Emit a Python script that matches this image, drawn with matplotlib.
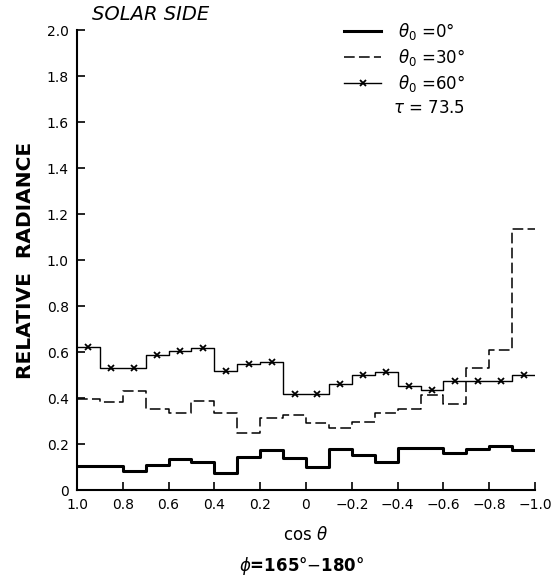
import matplotlib
matplotlib.use("Agg")
import matplotlib.pyplot as plt
import numpy as np

# bin edges in cos(theta), 20 bins of width 0.1 from 1.0 down to -1.0
cos_edges = [1.0, 0.9, 0.8, 0.7, 0.6, 0.5, 0.4, 0.3, 0.2, 0.1, 0.0,
             -0.1, -0.2, -0.3, -0.4, -0.5, -0.6, -0.7, -0.8, -0.9, -1.0]

rad_theta0 = [0.106, 0.106, 0.081, 0.109, 0.134, 0.122, 0.072, 0.145, 0.174, 0.138,
              0.100, 0.177, 0.153, 0.121, 0.184, 0.184, 0.160, 0.178, 0.191, 0.174]
rad_theta30 = [0.397, 0.383, 0.429, 0.354, 0.334, 0.386, 0.335, 0.249, 0.314, 0.328,
               0.292, 0.269, 0.295, 0.335, 0.354, 0.414, 0.373, 0.531, 0.610, 1.135]
rad_theta60 = [0.623, 0.530, 0.530, 0.588, 0.604, 0.619, 0.519, 0.547, 0.558, 0.416,
               0.416, 0.459, 0.498, 0.514, 0.452, 0.436, 0.475, 0.475, 0.472, 0.500]

x_ticks = [1.0, 0.8, 0.6, 0.4, 0.2, 0.0, -0.2, -0.4, -0.6, -0.8, -1.0]
x_tick_labels = ["1.0", "0.8", "0.6", "0.4", "0.2", "0", "\u22120.2", "\u22120.4",
                 "\u22120.6", "\u22120.8", "\u22121.0"]
y_ticks = [0, 0.2, 0.4, 0.6, 0.8, 1.0, 1.2, 1.4, 1.6, 1.8, 2.0]
y_tick_labels = ["0", "0.2", "0.4", "0.6", "0.8", "1.0", "1.2", "1.4", "1.6", "1.8", "2.0"]


def stair(vals):
	# repeat last value so step() draws the final bin
	return list(vals) + [vals[-1]]


def main():
	plt.rcParams['font.family'] = ['DejaVu Sans']
	fig = plt.figure(figsize=(5.51, 5.76), dpi=100)
	ax = fig.add_axes([0.1397, 0.1493, 0.8313, 0.7986])

	edges = np.array(cos_edges)
	centers = (edges[:-1] + edges[1:]) / 2

	ax.step(edges, stair(rad_theta0), where='post', color='black', lw=2.2,
			label=r'$\theta_0$ =0°')
	ax.step(edges, stair(rad_theta30), where='post', color='black', lw=1.1,
			dashes=(7, 2.8), label=r'$\theta_0$ =30°')
	ax.step(edges, stair(rad_theta60), where='post', color='black', lw=1.0)
	ax.plot(centers, rad_theta60, ls='none', marker='x', color='black', ms=4.5, mew=1.3)
	# legend proxy for the marked line
	ax.plot([], [], color='black', lw=1.0, marker='x', ms=4.5, mew=1.3,
			label=r'$\theta_0$ =60°')

	ax.set_xlim(1.0, -1.0)
	ax.set_ylim(0, 2.0)
	ax.set_xticks(x_ticks)
	ax.set_xticklabels(x_tick_labels, fontsize=10)
	ax.set_yticks(y_ticks)
	ax.set_yticklabels(y_tick_labels, fontsize=10)
	ax.tick_params(direction='in', length=6, width=1.2, pad=6)
	for side in ['top', 'right']:
		ax.spines[side].set_visible(False)
	for side in ['left', 'bottom']:
		ax.spines[side].set_linewidth(1.5)

	ax.set_ylabel('RELATIVE  RADIANCE', fontsize=14.5, fontweight='bold', labelpad=8)
	ax.set_xlabel(r'cos $\theta$', fontsize=12, labelpad=10)
	fig.text(0.548, 0.008, r'$\phi$=165°$-$180°', fontsize=12, ha='center',
			 fontweight='bold')
	ax.text(0.033, 1.012, 'SOLAR SIDE', transform=ax.transAxes, fontsize=14,
			style='italic', va='bottom', ha='left')

	ax.legend(loc='upper left', bbox_to_anchor=(0.551, 1.053), frameon=False,
			  fontsize=12, handlelength=2.2, handletextpad=1.0, labelspacing=0.3)
	ax.text(0.69, 0.83, r'$\tau$ = 73.5', transform=ax.transAxes, fontsize=12,
			va='center', ha='left')

	fig.savefig('out.png', dpi=100)


if __name__ == "__main__":
	main()
